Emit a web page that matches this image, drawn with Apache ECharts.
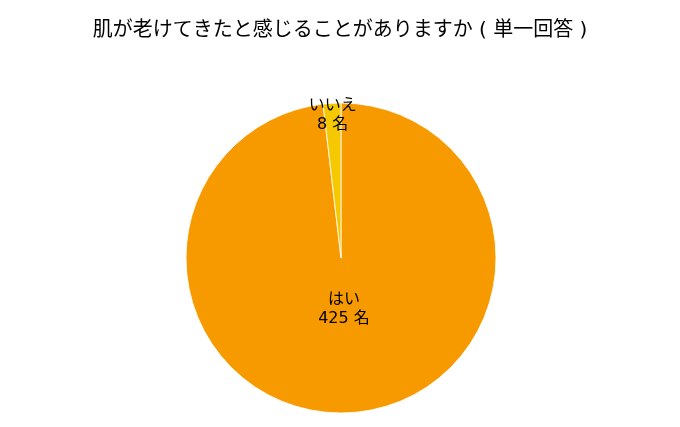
<!DOCTYPE html>
<html><head><meta charset="utf-8">
<script src="https://cdn.jsdelivr.net/npm/echarts@6/dist/echarts.min.js"></script>
<style>html,body{margin:0;padding:0;background:#fff}#c{width:680px;height:427px}</style>
</head><body><div id="c"></div>
<script>
const titleText = '肌が老けてきたと感じることがありますか ( 単一回答 )';
const categories = ['はい', 'いいえ'];
const counts = [425, 8];
const unit = '名';
const colors = ['#f79a00', '#f5c800'];

const font = '"DejaVu Sans", "Noto Sans CJK JP", sans-serif';
const chart = echarts.init(document.getElementById('c'));
const base = categories.map((n, i) => ({ name: n, value: counts[i], itemStyle: { color: colors[i] } }));
function labelSeries(radius, showIdx) {
  return {
    type: 'pie', center: [341, 258], radius: [0, radius], startAngle: 90, clockwise: true,
    silent: true, animation: false, z: 5,
    itemStyle: { color: 'transparent', borderWidth: 0 },
    labelLine: { show: false },
    data: categories.map((n, i) => ({
      name: n, value: counts[i],
      itemStyle: { color: 'transparent' },
      label: {
        show: i === showIdx, position: 'inside', color: '#000', fontSize: 16,
        fontFamily: font, lineHeight: 19,
        formatter: p => p.name + '\n' + p.value + ' ' + unit
      }
    }))
  };
}
chart.setOption({
  animation: false,
  title: { text: titleText, left: 'center', top: 16,
    textStyle: { fontSize: 20, fontWeight: 'normal', color: '#000', fontFamily: font } },
  series: [
    {
      type: 'pie', center: [341, 258], radius: [0, 155], startAngle: 90, clockwise: true,
      silent: true, animation: false,
      itemStyle: { borderColor: '#fff', borderWidth: 0.8 },
      label: { show: false }, labelLine: { show: false },
      data: base
    },
    labelSeries(96, 0),
    labelSeries(280, 1)
  ]
});
</script></body></html>
